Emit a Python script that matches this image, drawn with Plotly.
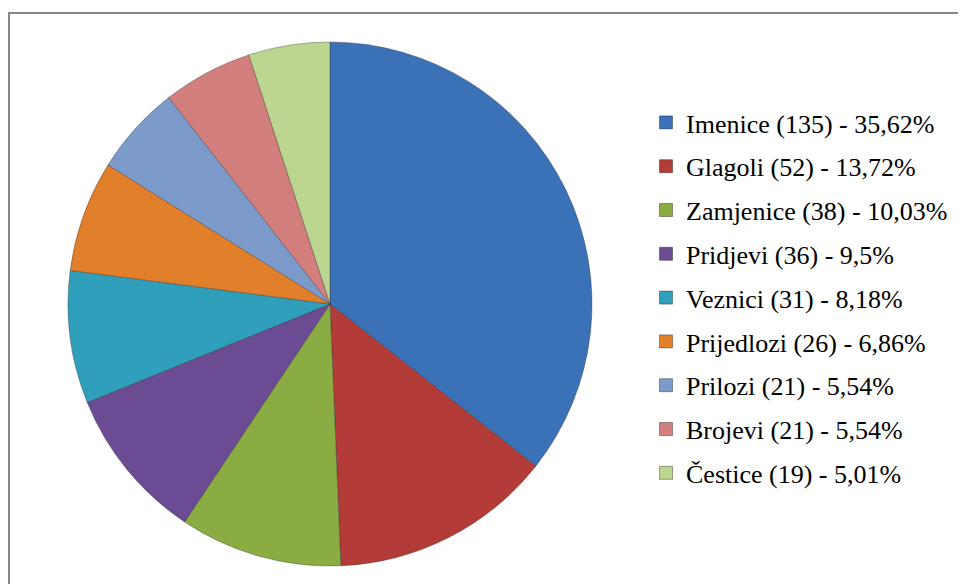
import plotly.graph_objects as go

categories = ["Imenice", "Glagoli", "Zamjenice", "Pridjevi", "Veznici",
              "Prijedlozi", "Prilozi", "Brojevi", "Čestice"]
counts = [135, 52, 38, 36, 31, 26, 21, 21, 19]
percent_labels = ["35,62%", "13,72%", "10,03%", "9,5%", "8,18%",
                  "6,86%", "5,54%", "5,54%", "5,01%"]
colors = ["#3b71b7", "#b33b38", "#8aac43", "#6b4b93", "#2f9fbb",
          "#e27f2b", "#7c9bcb", "#d37f7e", "#bcd68f"]

legend_texts = [f"{c} ({n}) - {p}" for c, n, p in zip(categories, counts, percent_labels)]

W, H = 966, 584
# page has an 8px body margin, so figure coords are offset by 8px
cx, cy, r = 322, 296, 262

fig = go.Figure()
fig.add_trace(go.Pie(
    labels=categories,
    values=counts,
    sort=False,
    direction="clockwise",
    rotation=0,
    textinfo="none",
    hoverinfo="label+value+percent",
    marker=dict(colors=colors, line=dict(color="rgba(40,40,40,0.35)", width=1)),
    showlegend=False,
    domain=dict(x=[(cx - r) / W, (cx + r) / W], y=[1 - (cy + r) / H, 1 - (cy - r) / H]),
))

for i, (txt, col) in enumerate(zip(legend_texts, colors)):
    fig.add_trace(go.Scatter(
        x=[None], y=[None], mode="markers",
        marker=dict(symbol="square", size=13, color=col,
                    line=dict(color="rgba(0,0,0,0.35)", width=1)),
        name=txt, legendgroup=f"g{i}", showlegend=True, hoverinfo="skip",
    ))

fig.add_shape(type="rect", xref="paper", yref="paper",
              x0=1 / W, x1=1.02, y0=-0.02, y1=1 - 5 / H,
              line=dict(color="#878787", width=2), fillcolor="rgba(0,0,0,0)")

fig.update_layout(
    width=W, height=H,
    margin=dict(l=0, r=0, t=0, b=0),
    paper_bgcolor="white", plot_bgcolor="white",
    font=dict(family="Liberation Serif, Times New Roman, serif", color="black"),
    xaxis=dict(visible=False), yaxis=dict(visible=False),
    legend=dict(x=638 / W, xanchor="left", y=1 - 91 / H, yanchor="top",
                font=dict(family="Liberation Serif, Times New Roman, serif", size=26, color="black"),
                tracegroupgap=7, bgcolor="rgba(0,0,0,0)"),
)

fig.write_html("out.html")
